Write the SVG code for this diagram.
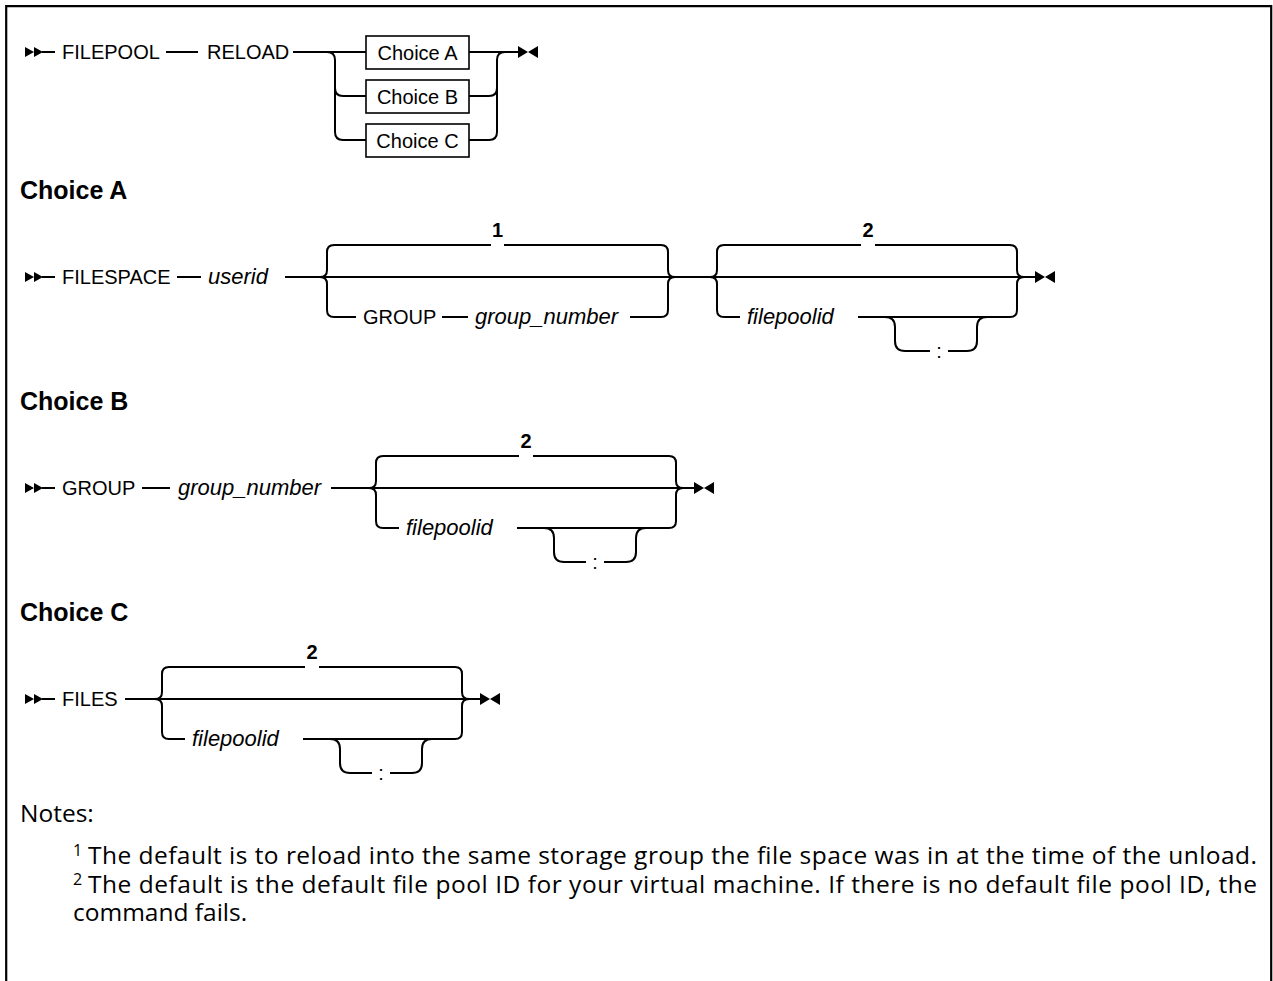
<svg xmlns="http://www.w3.org/2000/svg" width="1273" height="981" viewBox="0 0 1273 981">
<style>
.ln{fill:none;stroke:#000;stroke-width:2}
.box{fill:#fff;stroke:#000;stroke-width:1.6}
.t{font-family:"Liberation Sans",Arial,sans-serif;font-size:20px;fill:#000}
.it{font-style:italic;font-size:22px}
.num{font-weight:bold;text-anchor:middle}
.mid{text-anchor:middle}
.h{font-family:"Liberation Sans",Arial,sans-serif;font-weight:bold;font-size:25px;fill:#000}
.n{font-family:"Open Sans","Noto Sans",sans-serif;font-size:24.5px;fill:#000}
.sup{font-size:16px}
.frame{fill:none;stroke:#000;stroke-width:2.2}
</style>
<defs>
<path id="start" d="M0,-5 L9,0 L0,5 Z M9,-5 L18,0 L9,5 Z" fill="#000"/>
<path id="end" d="M0,-6 L10,0 L0,6 Z M20,-6 L10,0 L20,6 Z" fill="#000"/>
</defs>
<rect width="1273" height="981" fill="#fff"/>
<path class="frame" d="M6.2,990 L6.2,6.2 L1271.2,6.2 L1271.2,990"/>

<g id="connectors">
  <!-- row 1 -->
  <path class="ln" d="M42,52 L55,52 M166,52 L198,52 M293,52 L366,52 M469,52 L518,52"/>
  <path class="ln" d="M327,52 Q335,52 335,60 L335,132 Q335,140 343,140 L366,140 M335,88 Q335,96 343,96 L366,96"/>
  <path class="ln" d="M469,96 L489,96 Q497,96 497,88 L497,60 Q497,52 505,52 M469,140 L489,140 Q497,140 497,132 L497,88"/>

  <!-- Choice A -->
  <path class="ln" d="M42,277 L55,277 M177,277 L201,277 M285,277 L1035,277"/>
  <path class="ln" d="M334,245 Q327,245 327,252 L327,270 Q327,277 320,277 Q327,277 327,284 L327,310 Q327,317 334,317 L356,317"/>
  <path class="ln" d="M334,245 L491,245 M504,245 L661,245 Q668,245 668,252 L668,270 Q668,277 675,277 Q668,277 668,284 L668,310 Q668,317 661,317 L630,317 M442,317 L468,317"/>
  <path class="ln" d="M724,245 Q717,245 717,252 L717,270 Q717,277 710,277 Q717,277 717,284 L717,310 Q717,317 724,317 L740,317"/>
  <path class="ln" d="M724,245 L861,245 M875,245 L1010,245 Q1017,245 1017,252 L1017,270 Q1017,277 1024,277 Q1017,277 1017,284 L1017,310 Q1017,317 1010,317 L858,317"/>
  <path class="ln" d="M885,317 Q895,317 895,327 L895,341 Q895,351 905,351 L930,351 M948,351 L967,351 Q977,351 977,341 L977,327 Q977,317 987,317"/>

  <!-- Choice B -->
  <path class="ln" d="M42,488 L55,488 M142,488 L170,488 M331,488 L694,488"/>
  <path class="ln" d="M383,456 Q376,456 376,463 L376,481 Q376,488 369,488 Q376,488 376,495 L376,521 Q376,528 383,528 L399,528"/>
  <path class="ln" d="M383,456 L519,456 M533,456 L669,456 Q676,456 676,463 L676,481 Q676,488 683,488 Q676,488 676,495 L676,521 Q676,528 669,528 L517,528"/>
  <path class="ln" d="M544,528 Q554,528 554,538 L554,552 Q554,562 564,562 L586,562 M604,562 L626,562 Q636,562 636,552 L636,538 Q636,528 646,528"/>

  <!-- Choice C -->
  <path class="ln" d="M42,699 L55,699 M125,699 L480,699"/>
  <path class="ln" d="M169,667 Q162,667 162,674 L162,692 Q162,699 155,699 Q162,699 162,706 L162,732 Q162,739 169,739 L185,739"/>
  <path class="ln" d="M169,667 L305,667 M319,667 L455,667 Q462,667 462,674 L462,692 Q462,699 469,699 Q462,699 462,706 L462,732 Q462,739 455,739 L303,739"/>
  <path class="ln" d="M330,739 Q340,739 340,749 L340,763 Q340,773 350,773 L372,773 M390,773 L412,773 Q422,773 422,763 L422,749 Q422,739 432,739"/>

  <use href="#start" x="25" y="52"/>
  <use href="#end" x="518" y="52"/>
  <use href="#start" x="25" y="277"/>
  <use href="#end" x="1035" y="277"/>
  <use href="#start" x="25" y="488"/>
  <use href="#end" x="694" y="488"/>
  <use href="#start" x="25" y="699"/>
  <use href="#end" x="480" y="699"/>
</g>

<g id="row1">
  <text class="t" x="62" y="59">FILEPOOL</text>
  <text class="t" x="207" y="59">RELOAD</text>
  <g id="boxA"><rect class="box" x="366" y="36" width="103" height="33"/><text class="t mid" x="417.5" y="59.5">Choice A</text></g>
  <g id="boxB"><rect class="box" x="366" y="80" width="103" height="33"/><text class="t mid" x="417.5" y="103.5">Choice B</text></g>
  <g id="boxC"><rect class="box" x="366" y="124" width="103" height="33"/><text class="t mid" x="417.5" y="147.5">Choice C</text></g>
</g>

<g id="choiceA">
  <text class="h" x="20" y="199">Choice A</text>
  <text class="t" x="62" y="284">FILESPACE</text>
  <text class="t it" x="208" y="284">userid</text>
  <text class="t num" x="497.5" y="237">1</text>
  <text class="t" x="363" y="324">GROUP</text>
  <text class="t it" x="475" y="324">group_number</text>
  <text class="t num" x="868" y="237">2</text>
  <text class="t it" x="747" y="324">filepoolid</text>
  <text class="t mid" x="939" y="358">:</text>
</g>

<g id="choiceB">
  <text class="h" x="20" y="410">Choice B</text>
  <text class="t" x="62" y="495">GROUP</text>
  <text class="t it" x="178" y="495">group_number</text>
  <text class="t num" x="526" y="448">2</text>
  <text class="t it" x="406" y="535">filepoolid</text>
  <text class="t mid" x="595" y="569">:</text>
</g>

<g id="choiceC">
  <text class="h" x="20" y="621">Choice C</text>
  <text class="t" x="62" y="706">FILES</text>
  <text class="t num" x="312" y="659">2</text>
  <text class="t it" x="192" y="746">filepoolid</text>
  <text class="t mid" x="381" y="780">:</text>
</g>

<g id="notes">
  <text class="n" x="20" y="822">Notes:</text>
  <text class="n sup" x="73" y="856">1</text>
  <text class="n" x="88" y="864" textLength="1169" lengthAdjust="spacing">The default is to reload into the same storage group the file space was in at the time of the unload.</text>
  <text class="n sup" x="73" y="885">2</text>
  <text class="n" x="88" y="893" textLength="1169" lengthAdjust="spacing">The default is the default file pool ID for your virtual machine. If there is no default file pool ID, the</text>
  <text class="n" x="73" y="921">command fails.</text>
</g>
</svg>
